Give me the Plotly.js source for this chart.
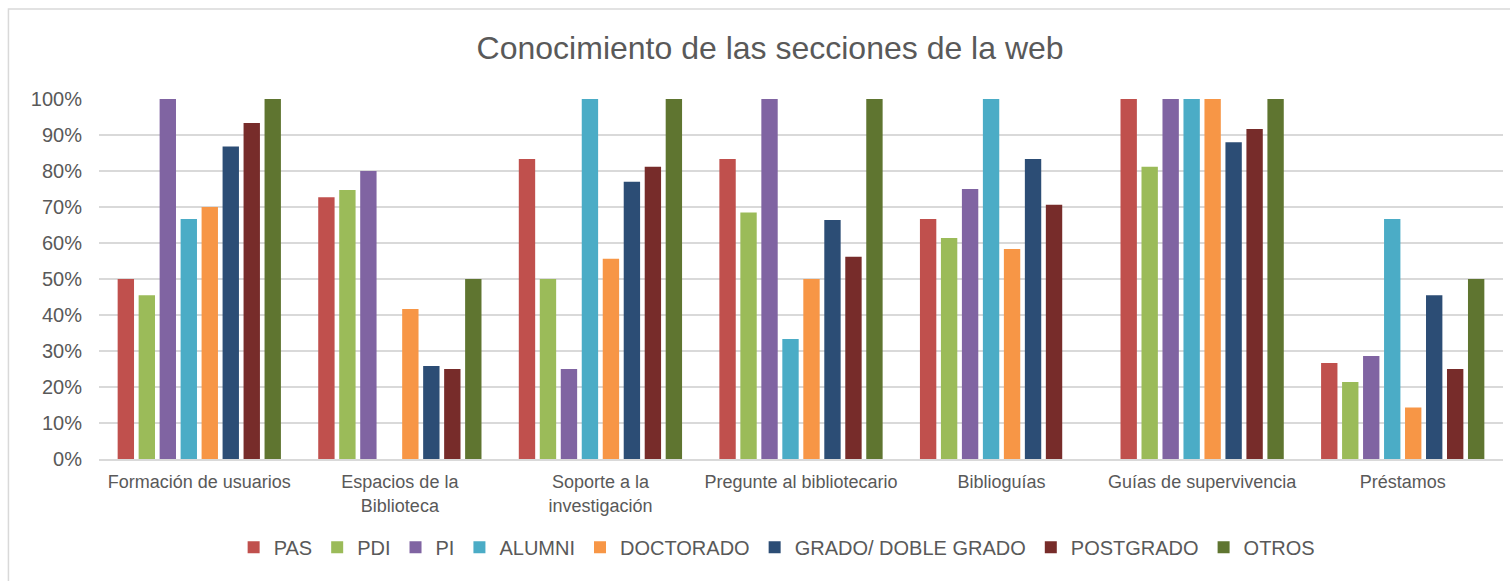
<!DOCTYPE html>
<html>
<head>
<meta charset="utf-8">
<script src="https://cdn.plot.ly/plotly-3.0.1.min.js"></script>
<style>
html,body{margin:0;padding:0;background:#fff;}
#chart{width:1510px;height:581px;}
</style>
</head>
<body>
<div id="chart"></div>
<script>
const categories = ["Formación de usuarios", "Espacios de la<br>Biblioteca", "Soporte a la<br>investigación", "Pregunte al bibliotecario", "Biblioguías", "Guías de supervivencia", "Préstamos"];
const seriesNames = ["PAS", "PDI", "PI", "ALUMNI", "DOCTORADO", "GRADO/ DOBLE GRADO", "POSTGRADO", "OTROS"];
const PAS = [0.50, 0.727, 0.833, 0.833, 0.667, 1.00, 0.267];
const PDI = [0.455, 0.747, 0.50, 0.685, 0.614, 0.812, 0.214];
const PI = [1.00, 0.80, 0.25, 1.00, 0.75, 1.00, 0.286];
const ALUMNI = [0.667, 0, 1.00, 0.333, 1.00, 1.00, 0.667];
const DOCTORADO = [0.70, 0.417, 0.556, 0.50, 0.583, 1.00, 0.143];
const GRADO = [0.868, 0.258, 0.77, 0.664, 0.833, 0.88, 0.455];
const POSTGRADO = [0.933, 0.25, 0.812, 0.562, 0.706, 0.917, 0.25];
const OTROS = [1.00, 0.50, 1.00, 1.00, 0, 1.00, 0.50];
const seriesValues = [PAS, PDI, PI, ALUMNI, DOCTORADO, GRADO, POSTGRADO, OTROS];
const colors = ["#C0504D", "#9BBB59", "#8064A2", "#4BACC6", "#F79646", "#2C4D75", "#772C2A", "#5F7530"];
const yTicks = [0, 0.1, 0.2, 0.3, 0.4, 0.5, 0.6, 0.7, 0.8, 0.9, 1.0];

const textColor = "#595959";
const font = "'Liberation Sans', Arial, sans-serif";

const traces = seriesNames.map((name, i) => ({
  type: "bar",
  name: name,
  x: categories,
  y: seriesValues[i],
  marker: {color: colors[i]},
  hoverinfo: "skip"
}));

const layout = {
  width: 1510,
  height: 581,
  paper_bgcolor: "#ffffff",
  plot_bgcolor: "#ffffff",
  margin: {l: 99, r: 7, t: 99, b: 122},
  barmode: "group",
  bargap: 0.163,
  bargroupgap: 0.22,
  font: {family: font, color: textColor},
  title: {
    text: "Conocimiento de las secciones de la web",
    font: {family: font, size: 32, color: textColor},
    xref: "paper",
    x: 0.478, xanchor: "center",
    y: 0.917, yanchor: "middle"
  },
  xaxis: {
    type: "category",
    showgrid: false,
    showline: true,
    linecolor: "#d9d9d9",
    linewidth: 1.5,
    ticks: "",
    tickfont: {size: 18, color: textColor, family: font},
    ticklabelstandoff: 6,
    fixedrange: true
  },
  yaxis: {
    range: [0, 1],
    tickvals: yTicks,
    tickformat: ".0%",
    showgrid: true,
    gridcolor: "#d9d9d9",
    gridwidth: 1.5,
    zeroline: false,
    showline: false,
    ticks: "",
    tickfont: {size: 20, color: textColor, family: font},
    ticklabelstandoff: 16,
    fixedrange: true
  },
  legend: {
    orientation: "h",
    x: 0.483, xanchor: "center",
    y: -0.245, yanchor: "middle",
    font: {size: 20, color: textColor, family: font},
    itemwidth: 30,
    traceorder: "normal"
  },
  shapes: [{
    type: "rect", xref: "paper", yref: "paper",
    x0: -0.0645, x1: 1.01, y0: -0.36, y1: 1.25,
    line: {color: "#d9d9d9", width: 1.5},
    fillcolor: "rgba(0,0,0,0)",
    layer: "below"
  }]
};

Plotly.newPlot("chart", traces, layout, {displayModeBar: false, staticPlot: true});
</script>
</body>
</html>
